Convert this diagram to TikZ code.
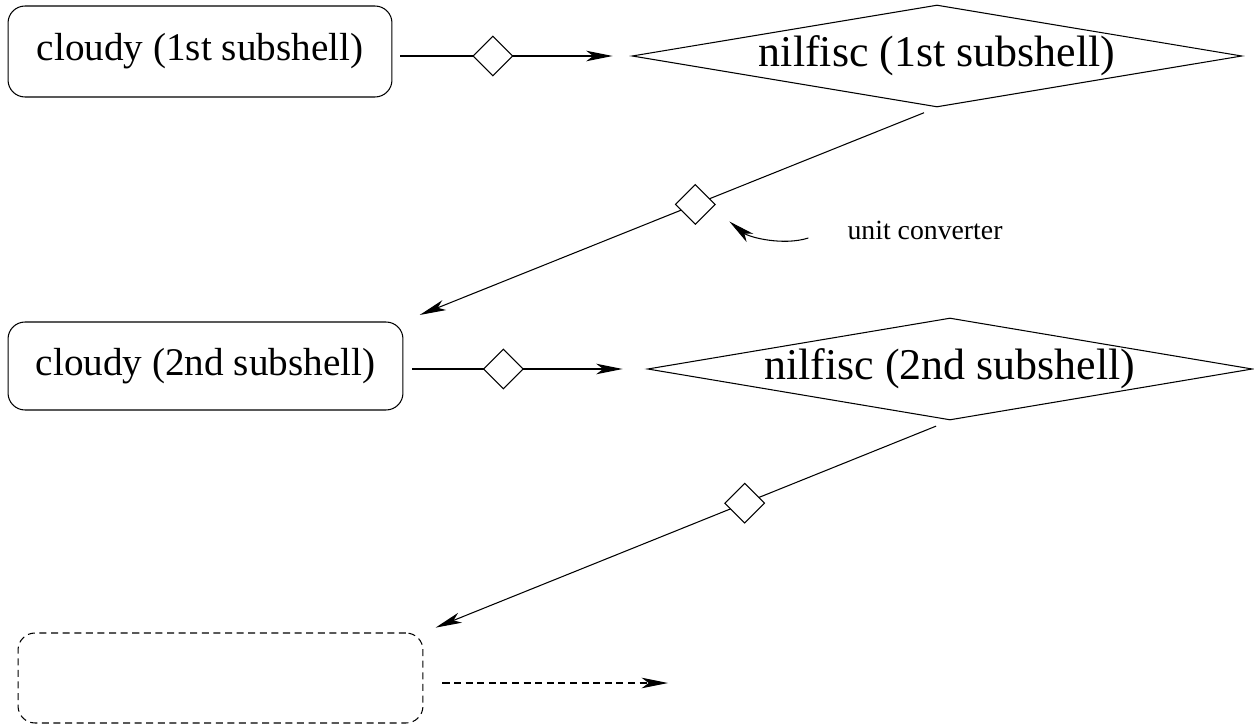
\documentclass[tikz,border=0pt]{standalone}
\usepackage{fontspec}
\setmainfont{Liberation Serif}
\usetikzlibrary{shapes.geometric, arrows.meta, positioning, calc}

\begin{document}
\begin{tikzpicture}[x=0.02cm, y=-0.02cm,
    codebox/.style={draw, rounded corners=0.34cm, line width=0.6pt, inner sep=0,
        font=\fontsize{22.3}{26}\selectfont},
    model/.style={diamond, draw, line width=0.6pt, inner sep=0,
        label={[font=\fontsize{25}{29}\selectfont]center:#1}},
    gate/.style={diamond, draw, fill=white, line width=0.6pt, minimum size=0.8cm, inner sep=0},
    conn/.style={-{Stealth[length=15pt, width=6pt, inset=4pt]}, line width=0.6pt},
    fade/.style={dash pattern=on 4pt off 2.6pt}]
    \useasboundingbox (0,0) rectangle (1254,726);

    % codes and models
    \node[codebox, minimum width=7.68cm, minimum height=1.82cm] (c1) at (200,51.5) {cloudy (1st subshell)};
    \node[model={nilfisc (1st subshell)}, minimum width=12.2cm, minimum height=2.04cm] (n1) at (937,56) {};

    \node[codebox, minimum width=7.9cm, minimum height=1.76cm] (c2) at (205.5,366) {cloudy (2nd subshell)};
    \node[model={nilfisc (2nd subshell)}, minimum width=12.1cm, minimum height=2.04cm] (n2) at (950,369) {};

    \node[codebox, fade, minimum width=8.1cm, minimum height=1.8cm] (c3) at (220.5,678) {};
    \coordinate (next) at (668,683);

    % links
    \draw[conn, shorten <=0.16cm, shorten >=0.38cm] (c1.east |- n1.west) -- node[gate, pos=0.42] (g1) {} (n1.west);
    \draw[conn, shorten <=0.28cm, shorten >=0.35cm] (n1.south) -- node[gate, pos=0.453] (g2) {} (c2.north east);
    \draw[conn, shorten <=0.18cm, shorten >=0.49cm] (c2.east |- n2.west) -- node[gate, pos=0.41] (g3) {} (n2.west);
    \draw[conn, shorten <=0.3cm, shorten >=0.26cm] (n2.south) -- node[gate, pos=0.39] (g4) {} (c3.north east);
    \draw[conn, fade, shorten <=0.38cm] (c3.east |- next) -- (next);

    % label
    \node[font=\fontsize{15.8}{18}\selectfont] (uc) at (925,230) {unit converter};
    \draw[conn] ([xshift=-0.66cm, yshift=-0.16cm]uc.west) .. controls +(-25,8) and +(20,16) .. ([xshift=0.68cm, yshift=-0.34cm]g2.center);
\end{tikzpicture}
\end{document}
